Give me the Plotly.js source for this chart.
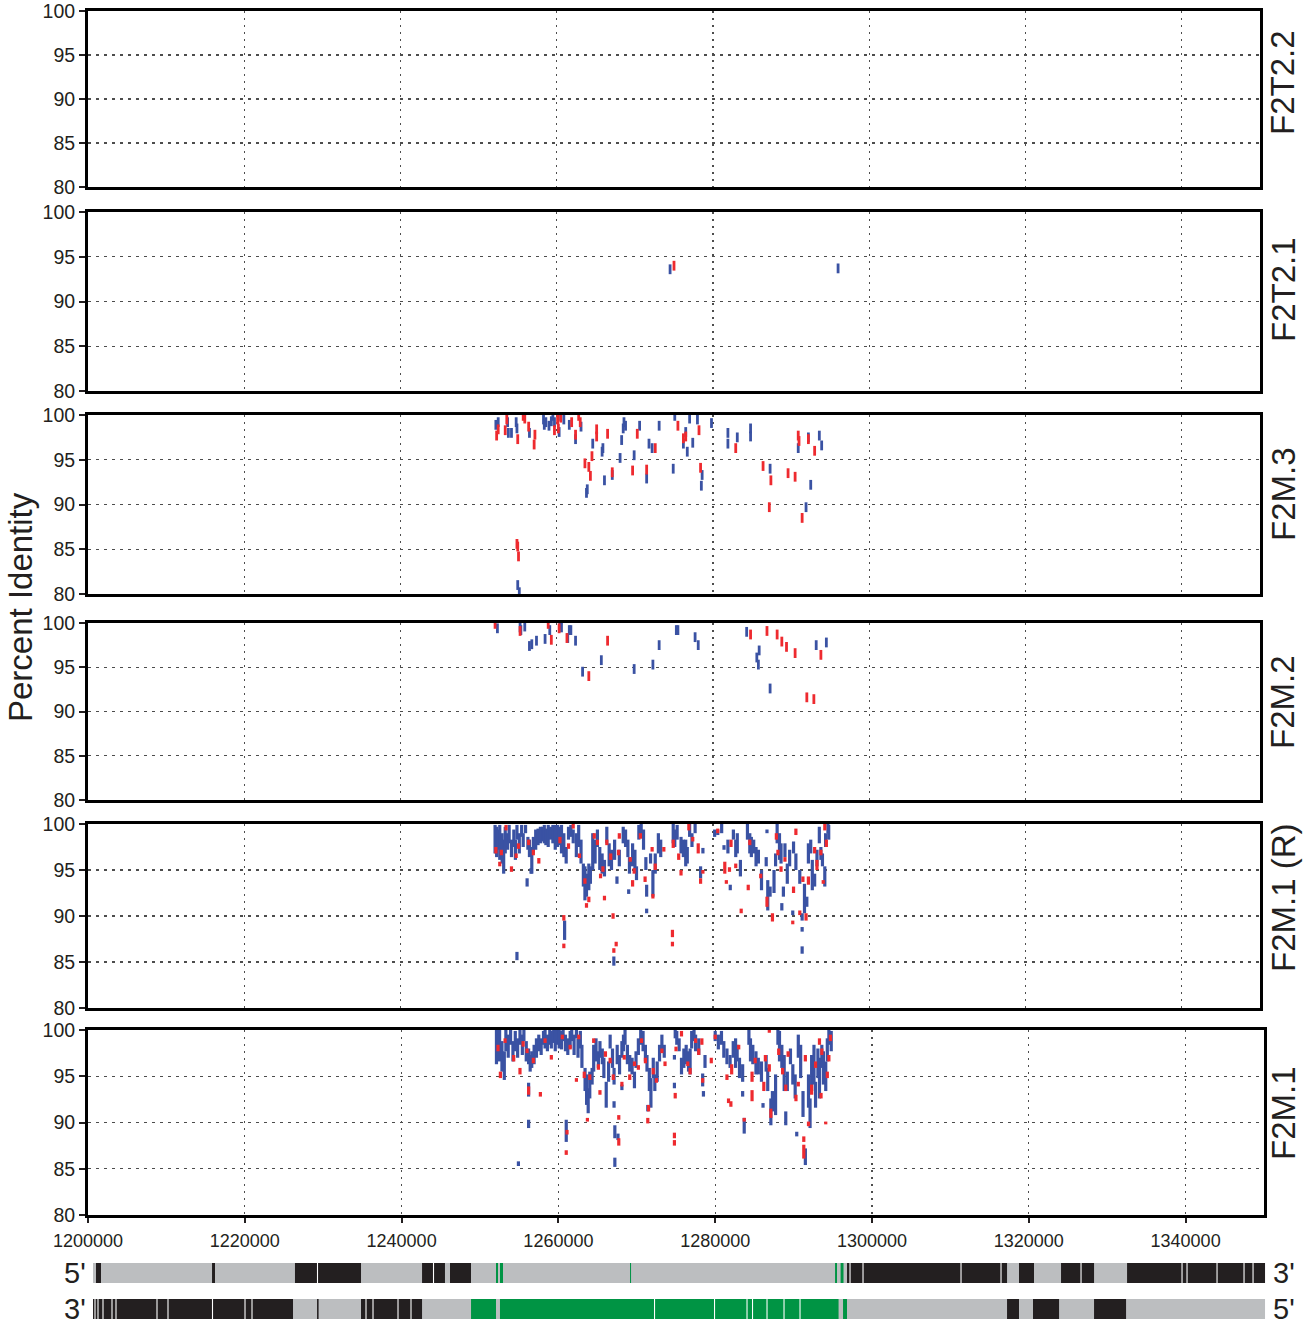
<!DOCTYPE html>
<html>
<head>
<meta charset="utf-8">
<script src="https://cdn.plot.ly/plotly-3.0.1.min.js"></script>
<style>html,body{margin:0;padding:0;background:#fff;}#chart{width:1307px;height:1332px;}</style>
</head>
<body>
<div id="chart"></div>
<script>
// ---------------- DATA ----------------
const xRange = [1200000, 1350000];
const yRange = [80, 100];
const panelNames = ['F2T2.2', 'F2T2.1', 'F2M.3', 'F2M.2', 'F2M.1 (R)', 'F2M.1'];
const yTitle = 'Percent Identity';

// sparse panels: [position, percent identity]
const f2t22Blue = [];
const f2t22Red = [];
const f2t21Blue = [[1274500, 93.6], [1296000, 93.7]];
const f2t21Red = [[1275000, 94.0]];

const f2m3Blue = [[1252200,98.9],[1252500,99.2],[1253700,99.2],[1253800,98.0],[1254200,98.0],[1254800,99.2],[1254900,98.5],[1256500,98.0],[1258300,99.5],[1258400,98.9],[1258600,99.2],[1259000,98.8],[1259300,99.3],[1259500,99.9],[1259700,99.2],[1260300,98.1],[1260500,99.9],[1260900,99.5],[1261600,98.9],[1262400,97.3],[1263100,98.7],[1264600,96.8],[1265800,95.9],[1265900,96.3],[1266100,92.7],[1267100,93.3],[1268100,95.2],[1268300,97.2],[1268500,98.5],[1268600,99.2],[1268800,98.8],[1269900,95.5],[1270600,98.8],[1271500,92.9],[1271800,96.8],[1272200,96.3],[1273100,98.8],[1274900,94.0],[1275100,99.9],[1276200,96.8],[1276500,98.1],[1276700,95.9],[1277000,99.6],[1277400,96.9],[1278000,99.5],[1278500,92.1],[1278600,93.3],[1279800,99.1],[1263800,91.3],[1263900,91.7],[1255000,81.0],[1255200,80.2],[1281900,98.0],[1281900,96.8],[1283100,97.5],[1284800,98.5],[1284800,97.6],[1287300,94.0],[1290900,96.3],[1291900,89.7],[1292200,97.5],[1292500,92.2],[1293600,97.7],[1293900,96.6]];
const f2m3Red = [[1252300,97.7],[1252500,98.4],[1253400,98.3],[1253600,99.5],[1255000,97.3],[1255700,99.9],[1255900,99.6],[1256400,98.7],[1257100,96.7],[1257200,97.8],[1259700,98.3],[1260100,99.5],[1260200,98.5],[1260500,99.7],[1261900,99.2],[1262400,97.8],[1262800,99.9],[1263000,99.2],[1263600,94.6],[1264100,94.2],[1264300,93.2],[1264500,95.4],[1265100,98.4],[1265100,97.6],[1266500,97.9],[1267100,93.6],[1269700,93.8],[1270300,97.9],[1271500,93.9],[1272600,96.3],[1275500,98.8],[1276200,97.4],[1276500,97.6],[1278200,98.3],[1278400,94.1],[1282900,96.3],[1286400,94.3],[1287200,89.7],[1287400,92.7],[1289600,93.5],[1290500,93.1],[1290900,97.7],[1291000,97.1],[1291400,88.5],[1292200,97.3],[1293000,96.0],[1254900,85.6],[1255100,84.2],[1255000,85.3]];

const f2m2Blue = [[1252400,99.4],[1255300,99.5],[1255400,99.2],[1255900,99.6],[1256500,97.4],[1256800,97.6],[1257400,98.0],[1258500,98.2],[1259100,99.2],[1260400,99.9],[1260600,99.5],[1261400,98.3],[1261600,99.2],[1261800,99.2],[1262400,98.0],[1263300,94.5],[1265700,95.8],[1269900,94.8],[1272300,95.3],[1273100,97.5],[1275300,99.2],[1275500,99.2],[1277700,98.4],[1278100,97.5],[1284300,99.0],[1285600,96.1],[1285800,95.3],[1285900,96.9],[1287300,92.6],[1293200,97.5],[1294500,97.8]];
const f2m2Red = [[1252100,99.9],[1255300,99.1],[1258900,99.9],[1259300,98.1],[1260300,99.4],[1261300,98.3],[1264100,94.0],[1266500,98.0],[1284800,98.7],[1286900,99.1],[1288200,98.7],[1288800,97.9],[1289400,97.3],[1290500,96.6],[1292000,91.6],[1292900,91.4],[1293800,96.4]];

// dense panels: [position, identity high, identity low]
const f2m1rBlue = [[1252100,99.9,96.8],[1252300,99.7,96.4],[1252500,99.4,97.2],[1252700,99.9,96.1],[1253000,99.0,95.7],[1253200,98.3,94.6],[1253400,99.7,96.8],[1253700,99.0,97.2],[1253900,99.9,97.9],[1254200,98.3,96.4],[1254500,99.4,97.5],[1254700,98.3,96.1],[1254900,99.9,98.3],[1255200,99.0,96.8],[1255500,99.9,98.6],[1255700,99.0,97.5],[1256000,99.9,99.0],[1256300,98.6,97.2],[1256500,98.3,96.4],[1256800,97.5,94.6],[1257000,98.6,96.8],[1257300,99.4,97.2],[1257600,99.5,97.7],[1257900,99.7,97.9],[1258200,99.7,98.1],[1258400,99.9,97.9],[1258600,99.5,97.7],[1258900,99.9,97.5],[1259200,99.7,98.3],[1259500,99.9,97.9],[1259800,99.9,97.2],[1260100,99.9,97.5],[1260300,99.7,97.7],[1260600,99.9,96.8],[1260900,99.0,96.4],[1261200,97.5,95.7],[1261500,99.7,98.3],[1261800,99.9,98.6],[1262100,99.4,97.9],[1262500,99.0,96.4],[1262800,99.9,97.5],[1263100,98.3,95.7],[1263400,95.7,93.2],[1263600,95.4,91.7],[1263800,94.6,92.1],[1264100,95.7,92.8],[1264300,95.4,93.5],[1264600,99.0,95.0],[1264900,98.3,95.7],[1265200,99.4,97.5],[1265500,97.5,95.0],[1265800,96.8,94.6],[1266100,96.1,94.3],[1266400,99.7,97.9],[1266700,97.9,95.4],[1267000,97.2,95.0],[1267400,98.3,96.1],[1267700,94.3,93.5],[1268000,97.2,95.4],[1268500,99.7,97.9],[1268800,99.4,97.5],[1269100,98.3,96.4],[1269300,96.4,94.6],[1269200,92.9,92.4],[1269700,97.9,95.4],[1270000,97.2,95.0],[1270200,95.4,93.9],[1270500,99.9,98.3],[1270800,100,98.6],[1271100,99.4,97.2],[1271400,96.4,95.0],[1271500,93.4,92.1],[1271500,90.8,90.3],[1272000,96.8,95.7],[1272300,95.0,92.1],[1272600,96.8,94.6],[1273000,99.0,96.8],[1273300,98.3,96.4],[1256200,94.1,93.2],[1261000,89.5,87.4],[1254900,86.1,85.2],[1267300,85.6,84.6],[1256700,95.2,94.6],
[1274900,100,97.9],[1275100,99.4,97.5],[1275400,99.9,98.3],[1275900,98.6,96.8],[1276200,98.3,96.4],[1276500,98.3,95.4],[1276700,97.5,95.7],[1277000,100,98.6],[1277300,99.0,97.5],[1277700,100,99.0],[1278400,95.4,94.1],[1278700,97.4,96.8],[1280200,99.4,98.6],[1280600,99.4,98.8],[1281100,100,99.0],[1281400,97.7,97.2],[1281900,98.3,96.8],[1282200,93.4,92.8],[1282600,99.4,98.3],[1282900,98.3,96.4],[1283100,99.0,96.8],[1283500,96.1,94.3],[1284400,100,98.3],[1284700,99.0,96.8],[1284900,98.6,96.4],[1285200,98.3,96.8],[1285500,97.5,95.4],[1285800,97.2,95.7],[1286200,95.0,92.8],[1286900,99.4,99.0],[1286800,96.4,95.4],[1287000,93.9,90.6],[1287300,93.2,92.1],[1287800,95.0,92.5],[1288000,96.8,95.4],[1288200,100,97.9],[1288500,99.0,96.1],[1288700,97.9,95.7],[1289000,93.2,92.1],[1288800,91.4,90.6],[1289200,97.9,96.4],[1289500,95.7,93.5],[1289800,97.2,95.4],[1290300,98.1,96.8],[1290600,96.8,95.0],[1290200,90.6,90.1],[1291100,95.0,93.5],[1291400,90.3,89.5],[1291400,88.8,88.3],[1291400,86.7,85.9],[1291700,93.5,90.3],[1292000,92.1,91.0],[1292200,97.9,95.7],[1292500,98.3,96.8],[1292700,96.1,92.8],[1293000,94.6,93.2],[1293300,97.2,95.4],[1293600,99.7,97.9],[1293800,97.5,96.1],[1294000,96.8,95.4],[1294300,95.4,93.2],[1294400,99.0,97.5],[1294700,100,99.0],[1294800,99.9,98.3]];
const f2m1rRed = [[1252200,97.5,96.8],[1252700,95.9,95.4],[1252900,97.2,96.6],[1253500,99.9,99.3],[1254200,95.4,94.8],[1254800,96.8,96.3],[1255100,97.9,97.3],[1256400,98.3,97.7],[1257000,97.2,96.6],[1257700,96.3,95.7],[1260400,98.6,97.9],[1260900,90.1,89.5],[1260900,87.0,86.5],[1261500,97.9,97.3],[1262100,100,99.5],[1262900,96.8,96.3],[1263600,94.1,93.5],[1263800,91.4,90.9],[1264100,92.1,91.5],[1264800,99.0,98.4],[1265200,98.3,97.7],[1265600,94.6,94.1],[1266100,92.2,91.7],[1265900,95.4,94.8],[1266400,98.3,97.7],[1266900,96.8,96.1],[1267200,90.3,89.7],[1267600,87.2,86.7],[1267300,86.5,86.0],[1268000,99.0,98.4],[1267900,97.2,96.6],[1269400,96.4,95.9],[1269700,93.9,93.2],[1269900,95.2,94.6],[1270700,99.0,98.4],[1271300,94.3,93.7],[1272200,97.5,97.0],[1272300,92.4,91.9],[1272600,95.7,95.0],[1273700,97.5,97.0],
[1274800,88.5,87.7],[1274800,87.2,86.7],[1274900,98.3,97.4],[1275600,96.8,96.1],[1275900,95.0,94.4],[1276900,100,99.3],[1277400,98.6,98.1],[1278100,97.9,96.8],[1278400,94.1,93.5],[1278700,95.0,94.6],[1280600,99.5,99.0],[1281500,95.9,94.6],[1281700,93.9,93.5],[1282100,95.3,94.8],[1282300,98.3,97.5],[1282900,95.7,95.2],[1283600,90.8,90.3],[1284500,93.4,92.8],[1284700,98.3,97.7],[1286100,94.6,94.1],[1286900,92.1,91.0],[1287600,90.3,89.4],[1288100,99.0,98.3],[1288300,97.2,96.6],[1288700,95.4,94.8],[1289200,96.4,95.9],[1290200,89.5,89.1],[1290300,93.2,92.5],[1290600,99.5,98.8],[1291100,90.6,90.1],[1291500,94.3,93.7],[1291900,90.3,89.5],[1292200,94.3,93.4],[1293000,97.5,96.8],[1293300,96.1,95.0],[1293800,97.2,96.6],[1294100,93.9,93.5],[1294300,100,99.3],[1294500,98.3,97.5]];

const f2m1Blue = [[1252100,100,96.3],[1252300,99.5,97.3],[1252500,100,96.6],[1252800,98.8,95.5],[1253100,97.7,94.6],[1253300,100,97.7],[1253600,99.5,97.0],[1253900,100,98.4],[1254200,98.8,96.6],[1254500,99.9,97.7],[1254800,99.1,97.0],[1255100,100,98.4],[1255400,99.5,97.3],[1255600,100,98.8],[1255900,98.8,96.6],[1256200,98.0,96.3],[1256400,97.3,95.5],[1256600,97.7,95.9],[1256900,98.4,96.3],[1257200,99.1,97.0],[1257500,99.5,97.7],[1257800,99.1,97.3],[1258100,99.9,98.4],[1258300,100,98.0],[1258600,99.5,97.7],[1258900,100,98.4],[1259100,99.9,98.0],[1259400,100,98.6],[1259600,100,97.7],[1259900,100,98.4],[1260100,100,98.0],[1260400,99.9,97.9],[1260600,100,98.8],[1260900,99.5,97.7],[1261200,99.1,97.3],[1261500,99.9,98.0],[1261700,100,98.8],[1262000,99.5,97.3],[1262300,100,99.1],[1262500,99.1,97.0],[1262800,99.9,98.0],[1263000,98.4,95.9],[1263400,95.9,93.4],[1263600,95.2,91.9],[1263800,93.7,91.0],[1264000,95.5,92.6],[1264300,95.9,94.1],[1264500,98.4,95.5],[1264800,99.1,96.6],[1265100,97.7,95.9],[1265300,98.8,97.0],[1265600,98.0,96.3],[1265800,97.0,94.8],[1266100,94.4,91.6],[1266400,96.6,94.4],[1266600,99.5,98.0],[1266900,98.0,95.9],[1267100,92.3,91.6],[1267100,95.9,94.1],[1267500,98.4,96.3],[1267800,97.3,95.2],[1268100,98.8,97.0],[1268300,99.5,97.7],[1268500,100,98.4],[1268800,98.4,96.3],[1269100,97.3,95.5],[1269400,97.0,95.2],[1269700,95.5,93.7],[1269900,97.7,95.9],[1270200,99.1,97.3],[1270500,100,98.4],[1270800,99.9,97.7],[1271100,98.4,96.6],[1271300,97.3,95.5],[1271600,95.9,93.4],[1271800,94.8,91.6],[1272100,97.0,94.8],[1272300,95.2,93.4],[1272600,96.6,94.4],[1272900,98.4,96.6],[1273200,99.5,97.7],[1273500,98.4,97.0],[1256200,94.3,92.8],[1256200,90.3,89.4],[1261000,90.3,87.9],[1267200,89.7,88.3],[1267600,88.8,88.1],[1267200,86.2,85.2],[1254900,85.8,85.3],[1271400,91.9,91.2],[1268100,94.1,93.5],
[1274900,100,99.1],[1274800,97.3,96.8],[1274800,94.3,93.7],[1275100,99.9,98.4],[1275400,99.1,97.7],[1275700,97.0,95.2],[1276000,98.0,95.9],[1276300,98.4,96.3],[1276600,97.7,95.5],[1276800,98.0,95.2],[1277000,99.9,98.0],[1277300,100,98.8],[1277500,99.5,97.7],[1277900,99.1,97.3],[1278400,95.3,93.9],[1278700,97.3,95.9],[1278500,93.4,92.8],[1280000,99.9,98.8],[1280400,99.5,97.9],[1280800,99.9,98.4],[1281100,98.8,97.0],[1281500,98.0,96.3],[1281900,97.3,95.9],[1282300,98.8,97.0],[1282600,99.1,95.9],[1282800,98.4,96.6],[1283100,97.0,94.8],[1283500,96.3,94.4],[1283500,93.4,92.8],[1283700,90.5,88.8],[1284300,100,98.4],[1284500,99.1,96.6],[1284800,98.4,96.3],[1285200,97.7,95.2],[1285500,97.0,95.2],[1285900,96.6,94.4],[1286100,92.1,91.6],[1286500,97.3,95.5],[1286700,95.9,93.4],[1287100,92.6,89.7],[1287300,93.4,91.2],[1287700,95.2,90.8],[1288000,100,98.4],[1288200,99.9,96.6],[1288500,98.4,95.9],[1288800,97.3,93.4],[1289000,91.2,89.7],[1289200,95.5,93.4],[1289600,98.0,96.3],[1289900,96.3,94.1],[1290200,95.2,92.6],[1290400,89.0,88.5],[1290600,99.5,97.0],[1290900,98.4,94.8],[1291200,93.4,90.6],[1291500,87.2,85.4],[1291900,95.2,91.6],[1292100,92.6,89.4],[1292300,97.3,93.4],[1292600,98.4,94.1],[1292800,94.4,91.6],[1293100,98.0,94.8],[1293300,97.0,92.6],[1293600,98.4,95.9],[1293800,97.7,94.1],[1294100,96.6,93.4],[1294300,99.1,96.6],[1294500,100,98.4],[1294800,99.9,97.7]];
const f2m1Red = [[1252300,98.4,97.7],[1252600,95.5,94.8],[1253200,99.1,98.6],[1254300,97.3,96.6],[1255100,95.9,95.2],[1255500,98.8,98.2],[1256000,98.0,97.5],[1256200,93.9,93.0],[1256800,97.0,96.4],[1257700,93.3,92.8],[1258300,99.1,98.6],[1259100,97.3,96.8],[1260500,99.5,99.0],[1261000,87.0,86.5],[1261100,89.2,88.7],[1261500,98.4,97.9],[1262300,94.8,94.4],[1262600,99.5,99.0],[1263300,95.5,94.8],[1263700,90.5,90.1],[1264000,95.2,94.6],[1264500,99.1,98.6],[1265100,96.3,95.7],[1265300,93.5,93.0],[1266000,97.7,97.1],[1266600,97.0,96.4],[1267000,95.2,94.6],[1267700,90.8,90.3],[1267700,88.3,87.5],[1268100,94.4,93.9],[1268400,97.3,96.8],[1269100,95.2,94.6],[1269700,96.6,96.1],[1270200,96.2,95.7],[1270600,99.1,98.6],[1271100,97.0,96.4],[1271400,90.5,89.9],[1271500,91.9,91.2],[1272100,95.9,95.2],[1272500,94.8,94.3],[1273200,98.0,97.5],[1273600,96.6,96.1],
[1274900,93.2,92.6],[1274800,88.9,88.3],[1274800,88.1,87.5],[1275000,98.2,97.7],[1275700,99.9,99.3],[1276500,96.6,96.1],[1276800,95.9,95.2],[1277500,99.1,98.6],[1277900,98.0,97.3],[1278300,99.1,98.4],[1278400,94.8,94.3],[1279500,97.0,96.4],[1280000,99.5,99.0],[1281500,95.2,94.6],[1281700,92.6,92.1],[1282000,92.3,91.7],[1282100,96.3,95.2],[1283000,98.4,97.9],[1283700,90.5,90.1],[1284700,95.5,94.4],[1284700,93.5,92.3],[1285100,97.0,96.4],[1286200,94.4,93.4],[1286400,97.3,96.6],[1286900,100,99.7],[1286900,96.3,95.5],[1287100,91.5,90.5],[1288100,98.0,97.3],[1288600,95.9,95.2],[1289000,94.1,93.4],[1289300,97.7,97.1],[1290300,93.0,92.3],[1290600,94.4,93.9],[1291300,88.5,87.9],[1291300,87.6,86.1],[1291500,97.3,96.6],[1291900,90.1,89.6],[1292300,94.1,93.0],[1292800,96.6,95.9],[1293300,99.1,98.4],[1293500,93.2,92.6],[1293600,98.0,97.3],[1294100,90.1,89.8],[1294300,95.5,94.8],[1294500,97.3,96.6],[1294700,99.5,98.8]];

// annotation tracks (start, end)
const trackSpan = [1200640, 1350420];
const track1Black = [[1201020,1201660],[1215850,1216230],[1226450,1234890],[1242690,1245620],[1246260,1248950],[1297000,1317450],[1318980,1320900],[1324350,1328570],[1332790,1350420]];
const track1Green = [[1252140,1252400],[1252650,1253040],[1269270,1269400],[1295470,1295720],[1296180,1296550]];
const track1Breaks = [1229330,1244155,1297384,1299045,1311569,1316681,1326906,1339813,1340452,1344287,1347737,1348889];
const track2Black = [[1200640,1226200],[1229270,1229470],[1234890,1242690],[1317450,1318980],[1320770,1324100],[1328570,1332660]];
const track2Green = [[1248950,1252140],[1252650,1295920],[1296490,1297000]];
const track2Breaks = [1200895,1201278,1201917,1203067,1203578,1208818,1210224,1215911,1220065,1220959,1235528,1236423,1239618,1241279,1272399,1280067,1284220,1284923,1286776,1288949,1290994];
const trackLabelsLeft = ["5'", "3'"];
const trackLabelsRight = ["3'", "5'"];

// ---------------- DRAWING ----------------
const W = 1307, H = 1332;
const BLUE = '#3a52a3', RED = '#ee2a2f';
const FONT = 'Liberation Sans, Arial, Helvetica, sans-serif';
const panelBox = [[11,187,1260],[212,391,1260],[415,594,1260],[623,800,1260],[824,1008,1260],[1030,1215,1264]];
const labelCenters = [83, 290, 494, 702, 898, 1113];
const sparse = [[f2t22Blue,f2t22Red],[f2t21Blue,f2t21Red],[f2m3Blue,f2m3Red],[f2m2Blue,f2m2Red],null,null];
const dense = [null,null,null,null,[f2m1rBlue,f2m1rRed],[f2m1Blue,f2m1Red]];

function segTrace(data, color, xa, ya){
  const x=[], y=[];
  data.forEach(d=>{x.push(d[0],d[0],null); y.push(d[1],d[2],null);});
  return {type:'scatter', mode:'lines', x, y, xaxis:xa, yaxis:ya, line:{color, width:3.2}, hoverinfo:'skip', connectgaps:false};
}
function markTrace(data, color, xa, ya){
  return {type:'scatter', mode:'markers', x:data.map(d=>d[0]), y:data.map(d=>d[1]), xaxis:xa, yaxis:ya,
    marker:{symbol:'line-ns', size:7, color, line:{color, width:2.8}}, hoverinfo:'skip'};
}
function barTrace(blocks, row, color){
  return {type:'bar', orientation:'h', base:blocks.map(b=>b[0]), x:blocks.map(b=>b[1]-b[0]), y:blocks.map(()=>row),
    width:0.556, marker:{color, line:{width:0}}, xaxis:'x7', yaxis:'y7', hoverinfo:'skip'};
}

const traces = [];
const layout = {width:W, height:H, margin:{l:0,r:0,t:0,b:0}, paper_bgcolor:'#fff', plot_bgcolor:'rgba(0,0,0,0)',
  showlegend:false, barmode:'overlay', font:{family:FONT, color:'#231f20'}, annotations:[]};

panelBox.forEach((pb,i)=>{
  const n = i+1, xa = 'x'+n, ya = 'y'+n;
  const last = (i === panelBox.length-1);
  layout['xaxis'+n] = {domain:[88/W, pb[2]/W], range:xRange, anchor:ya, dtick:20000, tick0:1200000,
    showline:true, mirror:true, linewidth:3, linecolor:'#000', zeroline:false,
    showgrid:true, gridcolor:'#4d4d4d', gridwidth:1.2, griddash:'2px,5px',
    showticklabels:last, ticks: last ? 'outside' : '', ticklen:5, tickwidth:2, tickcolor:'#231f20',
    tickfont:{size:18, family:FONT, color:'#231f20'}, ticklabelstandoff:2, ticklabeloverflow:'allow',
    tickformat:'d', fixedrange:true};
  layout['yaxis'+n] = {domain:[1-pb[1]/H, 1-pb[0]/H], range:yRange, anchor:xa, dtick:5, tick0:80,
    showline:true, mirror:true, linewidth:3, linecolor:'#000', zeroline:false,
    showgrid:true, gridcolor:'#4d4d4d', gridwidth:1.2, griddash:'3px,5px',
    ticks:'outside', ticklen:6, tickwidth:2, tickcolor:'#231f20', ticklabeloverflow:'allow',
    tickfont:{size:19.5, family:FONT, color:'#231f20'}, fixedrange:true};
  if (sparse[i]) { traces.push(markTrace(sparse[i][0], BLUE, xa, ya)); traces.push(markTrace(sparse[i][1], RED, xa, ya)); }
  if (dense[i]) { traces.push(segTrace(dense[i][0], BLUE, xa, ya)); traces.push(segTrace(dense[i][1], RED, xa, ya)); }
  layout.annotations.push({xref:'paper', yref:'paper', x:1283/W, y:1-labelCenters[i]/H, xanchor:'center', yanchor:'middle',
    text:panelNames[i], textangle:-90, showarrow:false, font:{size:33, family:FONT, color:'#231f20'}});
});

layout.annotations.push({xref:'paper', yref:'paper', x:20/W, y:1-607/H, xanchor:'center', yanchor:'middle',
  text:yTitle, textangle:-90, showarrow:false, font:{size:33, family:FONT, color:'#231f20'}});

// tracks
layout.xaxis7 = {domain:[88/W, 1268/W], range:[1200000, 1350800], anchor:'y7', visible:false, fixedrange:true};
layout.yaxis7 = {domain:[1-1327/H, 1-1255/H], range:[-0.5, 1.5], anchor:'x7', visible:false, fixedrange:true};
traces.push(barTrace([trackSpan], 1, '#bcbec0'));
traces.push(barTrace([trackSpan], 0, '#bcbec0'));
traces.push(barTrace(track1Black, 1, '#231f20'));
traces.push(barTrace(track1Green, 1, '#009444'));
traces.push(barTrace(track2Black, 0, '#231f20'));
traces.push(barTrace(track2Green, 0, '#009444'));
traces.push(barTrace(track1Breaks.map(p=>[p-70,p+70]), 1, '#ffffff'));
traces.push(barTrace(track2Breaks.map(p=>[p-70,p+70]), 0, '#ffffff'));

[[1273,0],[1309,1]].forEach(([py,k])=>{
  layout.annotations.push({xref:'paper', yref:'paper', x:75/W, y:1-py/H, xanchor:'center', yanchor:'middle',
    text:trackLabelsLeft[k], showarrow:false, font:{size:29, family:FONT, color:'#231f20'}});
  layout.annotations.push({xref:'paper', yref:'paper', x:1284/W, y:1-py/H, xanchor:'center', yanchor:'middle',
    text:trackLabelsRight[k], showarrow:false, font:{size:29, family:FONT, color:'#231f20'}});
});

Plotly.newPlot('chart', traces, layout, {staticPlot:true, displayModeBar:false});
</script>
</body>
</html>
